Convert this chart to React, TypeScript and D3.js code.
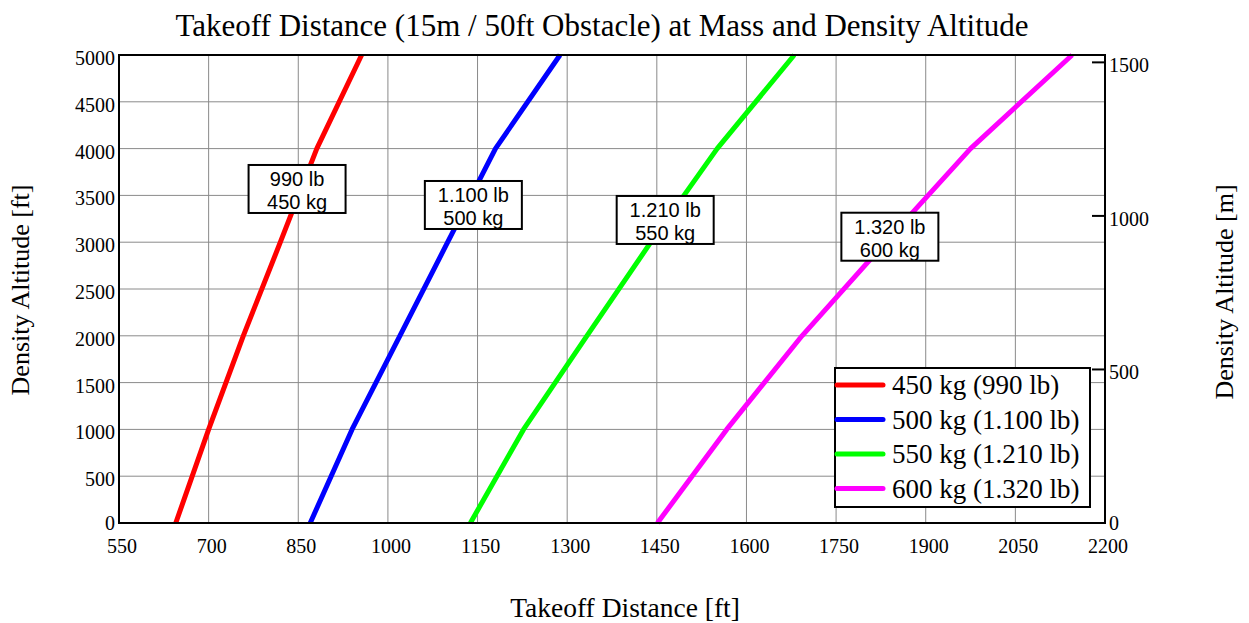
import React from "react";
import * as d3 from "d3";

const altitudesFt = [0, 1000, 2000, 3000, 4000, 5000];
const dist450 = [645, 700, 758, 820, 881, 956];
const dist500 = [870, 940, 1020, 1100, 1180, 1288];
const dist550 = [1138, 1227, 1333, 1440, 1551, 1680];
const dist600 = [1451, 1567, 1693, 1833, 1975, 2145];

const seriesNames = ["450 kg (990 lb)", "500 kg (1.100 lb)", "550 kg (1.210 lb)", "600 kg (1.320 lb)"];
const seriesColors = ["#ff0000", "#0000ff", "#00ff00", "#ff00ff"];
const seriesData = [dist450, dist500, dist550, dist600];

const labelLine1 = ["990 lb", "1.100 lb", "1.210 lb", "1.320 lb"];
const labelLine2 = ["450 kg", "500 kg", "550 kg", "600 kg"];
const labelAtDist = [848, 1143, 1464, 1840];
const labelAtAlt = [3825, 3654, 3494, 3315];

const xTicks = [550, 700, 850, 1000, 1150, 1300, 1450, 1600, 1750, 1900, 2050, 2200];
const yTicks = [0, 500, 1000, 1500, 2000, 2500, 3000, 3500, 4000, 4500, 5000];
const yTicksM = [0, 500, 1000, 1500];

const W = 1249;
const H = 623;
const M = { left: 119, right: 1105, top: 55, bottom: 523 };
const SERIF = "'Liberation Serif', 'Times New Roman', serif";
const SANS = "'Liberation Sans', Arial, sans-serif";

export default function App() {
  const x = d3.scaleLinear().domain([550, 2200]).range([M.left, M.right]);
  const y = d3.scaleLinear().domain([0, 5000]).range([M.bottom, M.top]);
  const yM = d3.scaleLinear().domain([0, 5000 * 0.3048]).range([M.bottom, M.top]);

  const line = d3
    .line<[number, number]>()
    .x((d) => x(d[0]))
    .y((d) => y(d[1]));

  const boxW = 97;
  const boxH = 48;

  const legX = 835;
  const legY = 368;
  const legW = 255;
  const legH = 139;
  const rowH = 34.5;

  return (
    <svg
      width={W}
      height={H}
      style={{ position: "absolute", left: 0, top: 0, background: "#fff" }}
    >
      <rect x={0} y={0} width={W} height={H} fill="#fff" />
      <text x={602} y={36} fontFamily={SERIF} fontSize={31} textAnchor="middle" fill="#000">
        Takeoff Distance (15m / 50ft Obstacle) at Mass and Density Altitude
      </text>

      {/* grid */}
      {xTicks.map((t) => (
        <line key={"gx" + t} x1={x(t)} x2={x(t)} y1={M.top} y2={M.bottom} stroke="#8a8a8a" strokeWidth={1} />
      ))}
      {yTicks.map((t) => (
        <line key={"gy" + t} x1={M.left} x2={M.right} y1={y(t)} y2={y(t)} stroke="#8a8a8a" strokeWidth={1} />
      ))}

      {/* series */}
      {seriesData.map((s, i) => (
        <path
          key={"s" + i}
          d={line(s.map((v, j) => [v, altitudesFt[j]] as [number, number])) || ""}
          fill="none"
          stroke={seriesColors[i]}
          strokeWidth={5}
          strokeLinejoin="round"
        />
      ))}

      {/* frame */}
      <rect x={M.left} y={M.top} width={M.right - M.left} height={M.bottom - M.top} fill="none" stroke="#000" strokeWidth={2} />

      {/* right axis ticks (m) */}
      {yTicksM.map((t) => (
        <g key={"ym" + t}>
          <line x1={M.right - 13} x2={M.right} y1={yM(t)} y2={yM(t)} stroke="#000" strokeWidth={2} />
          <text x={M.right + 4} y={yM(t) + (t === 0 ? 7 : 10)} fontFamily={SERIF} fontSize={20} fill="#000">
            {t}
          </text>
        </g>
      ))}

      {/* left tick labels */}
      {yTicks.map((t) => (
        <text key={"yl" + t} x={M.left - 4} y={y(t) + (t === 0 ? 7 : 10)} fontFamily={SERIF} fontSize={20} textAnchor="end" fill="#000">
          {t}
        </text>
      ))}

      {/* bottom tick labels */}
      {xTicks.map((t) => (
        <text key={"xl" + t} x={x(t) + 3} y={553} fontFamily={SERIF} fontSize={20} textAnchor="middle" fill="#000">
          {t}
        </text>
      ))}

      {/* annotation boxes */}
      {labelAtDist.map((d, i) => {
        const cx = x(d);
        const top = y(labelAtAlt[i]);
        return (
          <g key={"lab" + i}>
            <rect x={cx - boxW / 2} y={top} width={boxW} height={boxH} fill="#fff" stroke="#000" strokeWidth={2} />
            <text x={cx} y={top + 21} fontFamily={SANS} fontSize={20} textAnchor="middle" fill="#000">
              {labelLine1[i]}
            </text>
            <text x={cx} y={top + 44} fontFamily={SANS} fontSize={20} textAnchor="middle" fill="#000">
              {labelLine2[i]}
            </text>
          </g>
        );
      })}

      {/* legend */}
      <rect x={legX} y={legY} width={legW} height={legH} fill="#fff" stroke="#000" strokeWidth={2} />
      {seriesNames.map((n, i) => (
        <g key={"lg" + i}>
          <line
            x1={legX + 2}
            x2={legX + 48}
            y1={legY + 17 + i * rowH}
            y2={legY + 17 + i * rowH}
            stroke={seriesColors[i]}
            strokeWidth={5}
            strokeLinecap="round"
          />
          <text x={legX + 57} y={legY + 26 + i * rowH} fontFamily={SERIF} fontSize={27} fill="#000">
            {n}
          </text>
        </g>
      ))}

      {/* axis titles */}
      <text x={625} y={617} fontFamily={SERIF} fontSize={27.5} textAnchor="middle" fill="#000">
        Takeoff Distance [ft]
      </text>
      <text
        transform={`translate(29, 290) rotate(-90)`}
        fontFamily={SERIF}
        fontSize={26}
        textAnchor="middle"
        fill="#000"
      >
        Density Altitude [ft]
      </text>
      <text
        transform={`translate(1233, 292) rotate(-90)`}
        fontFamily={SERIF}
        fontSize={26}
        textAnchor="middle"
        fill="#000"
      >
        Density Altitude [m]
      </text>
    </svg>
  );
}
